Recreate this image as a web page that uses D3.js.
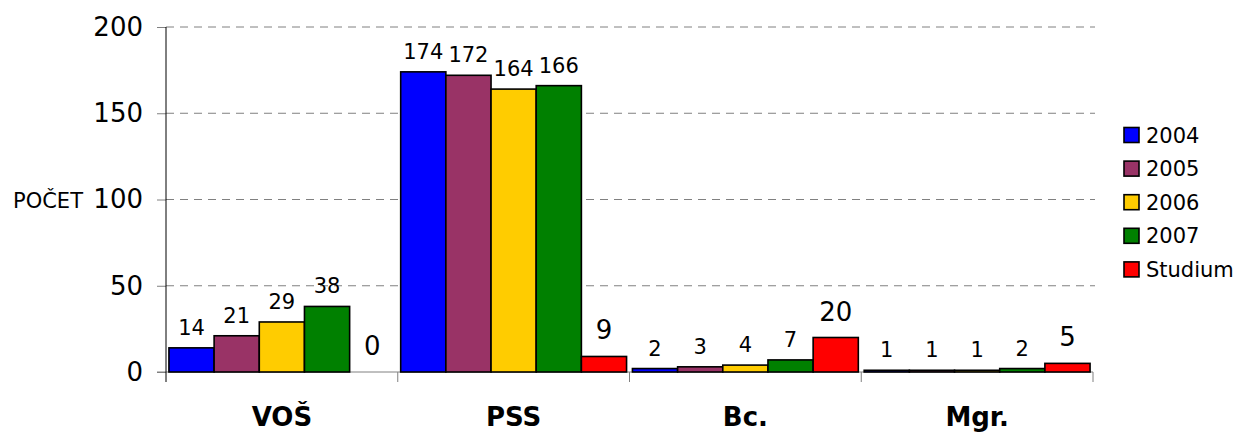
<!DOCTYPE html>
<html>
<head>
<meta charset="utf-8">
<script src="https://cdn.jsdelivr.net/npm/d3@7"></script>
<style>
  html, body { margin: 0; padding: 0; background: #fff; }
  svg { display: block; font-family: "DejaVu Sans", Verdana, sans-serif; }
</style>
</head>
<body>
<svg id="chart" width="1238" height="436"></svg>
<script>
const categories = ["VOŠ", "PSS", "Bc.", "Mgr."];
const seriesNames = ["2004", "2005", "2006", "2007", "Studium"];
const v2004 = [14, 174, 2, 1];
const v2005 = [21, 172, 3, 1];
const v2006 = [29, 164, 4, 1];
const v2007 = [38, 166, 7, 2];
const vStudium = [0, 9, 20, 5];
const yTicks = [0, 50, 100, 150, 200];
const colors = ["#0000FF", "#993366", "#FFCC00", "#008000", "#FF0000"];

const seriesValues = [v2004, v2005, v2006, v2007, vStudium];

const svg = d3.select("#chart");
const pLeft = 166, pRight = 1093, pTop = 27, pBottom = 372;

const x = d3.scaleBand().domain(categories).range([pLeft, pRight]).padding(0);
const xs = d3.scaleBand().domain(seriesNames).range([0, x.bandwidth()]).paddingInner(0).paddingOuter(0.065);
const y = d3.scaleLinear().domain([0, 200]).range([pBottom, pTop]);

// gridlines
svg.append("g").selectAll("line").data(yTicks.filter(d => d > 0)).join("line")
  .attr("x1", pLeft).attr("x2", 1095)
  .attr("y1", d => y(d)).attr("y2", d => y(d))
  .attr("stroke", "#808080").attr("stroke-width", 1)
  .attr("stroke-dasharray", "8,6");

// y axis
const yAxis = svg.append("g").attr("transform", `translate(${pLeft},0)`)
  .call(d3.axisLeft(y).tickValues(yTicks).tickSize(9).tickPadding(14).tickFormat(d3.format("d")));
yAxis.select(".domain").remove();
yAxis.selectAll(".tick line").attr("stroke", "#808080");
yAxis.selectAll(".tick text").attr("font-size", 26).attr("fill", "#000")
  .attr("font-family", "'DejaVu Sans', sans-serif");

// x axis
const xAxis = svg.append("g").attr("transform", `translate(0,${pBottom})`)
  .call(d3.axisBottom(x).tickSize(0).tickPadding(0));
xAxis.select(".domain").remove();
xAxis.selectAll(".tick text").remove();
svg.append("line").attr("x1", 157).attr("x2", pRight).attr("y1", pBottom).attr("y2", pBottom)
  .attr("stroke", "#808080").attr("stroke-width", 1);
const boundaries = categories.map(c => x(c)).concat([x(categories[categories.length - 1]) + x.bandwidth()]);
svg.append("g").selectAll("line").data(boundaries.slice(1)).join("line")
  .attr("x1", d => d).attr("x2", d => d).attr("y1", pBottom).attr("y2", pBottom + 10)
  .attr("stroke", "#808080").attr("stroke-width", 1);
svg.append("line").attr("x1", pLeft).attr("x2", pLeft).attr("y1", pTop).attr("y2", pBottom + 10)
  .attr("stroke", "#000").attr("stroke-width", 1);

// category labels
svg.append("g").selectAll("text").data(categories).join("text")
  .attr("x", d => x(d) + x.bandwidth() / 2).attr("y", 426)
  .attr("text-anchor", "middle").attr("font-size", 26).attr("font-weight", "bold")
  .text(d => d);

// y label
svg.append("text").attr("x", 48).attr("y", 208).attr("text-anchor", "middle")
  .attr("font-size", 21).text("POČET");

// bars
const groups = svg.append("g").selectAll("g").data(seriesNames).join("g")
  .attr("fill", (d, i) => colors[i]);
groups.each(function(s, si) {
  const g = d3.select(this);
  const vals = seriesValues[si];
  const rows = categories.map((c, ci) => ({ c, v: vals[ci] }));
  g.selectAll("rect").data(rows.filter(d => d.v > 0)).join("rect")
    .attr("x", d => x(d.c) + xs(s)).attr("width", xs.bandwidth())
    .attr("y", d => y(d.v)).attr("height", d => y(0) - y(d.v))
    .attr("stroke", "#000").attr("stroke-width", 1.6);
  g.selectAll("text").data(rows).join("text")
    .attr("x", d => x(d.c) + xs(s) + xs.bandwidth() / 2)
    .attr("y", d => y(d.v) - (s === "Studium" ? 17 : 13))
    .attr("text-anchor", "middle").attr("fill", "#000")
    .attr("font-size", s === "Studium" ? 26 : 21)
    .text(d => d.v);
});

// legend
const legend = svg.append("g").selectAll("g").data(seriesNames).join("g")
  .attr("transform", (d, i) => `translate(1124,${135 + i * 33.6})`);
legend.append("rect").attr("x", 0).attr("y", -7.5).attr("width", 15).attr("height", 15)
  .attr("fill", (d, i) => colors[i]).attr("stroke", "#000").attr("stroke-width", 1.6);
legend.append("text").attr("x", 22).attr("y", 7.5).attr("font-size", 21).text(d => d);
</script>
</body>
</html>
